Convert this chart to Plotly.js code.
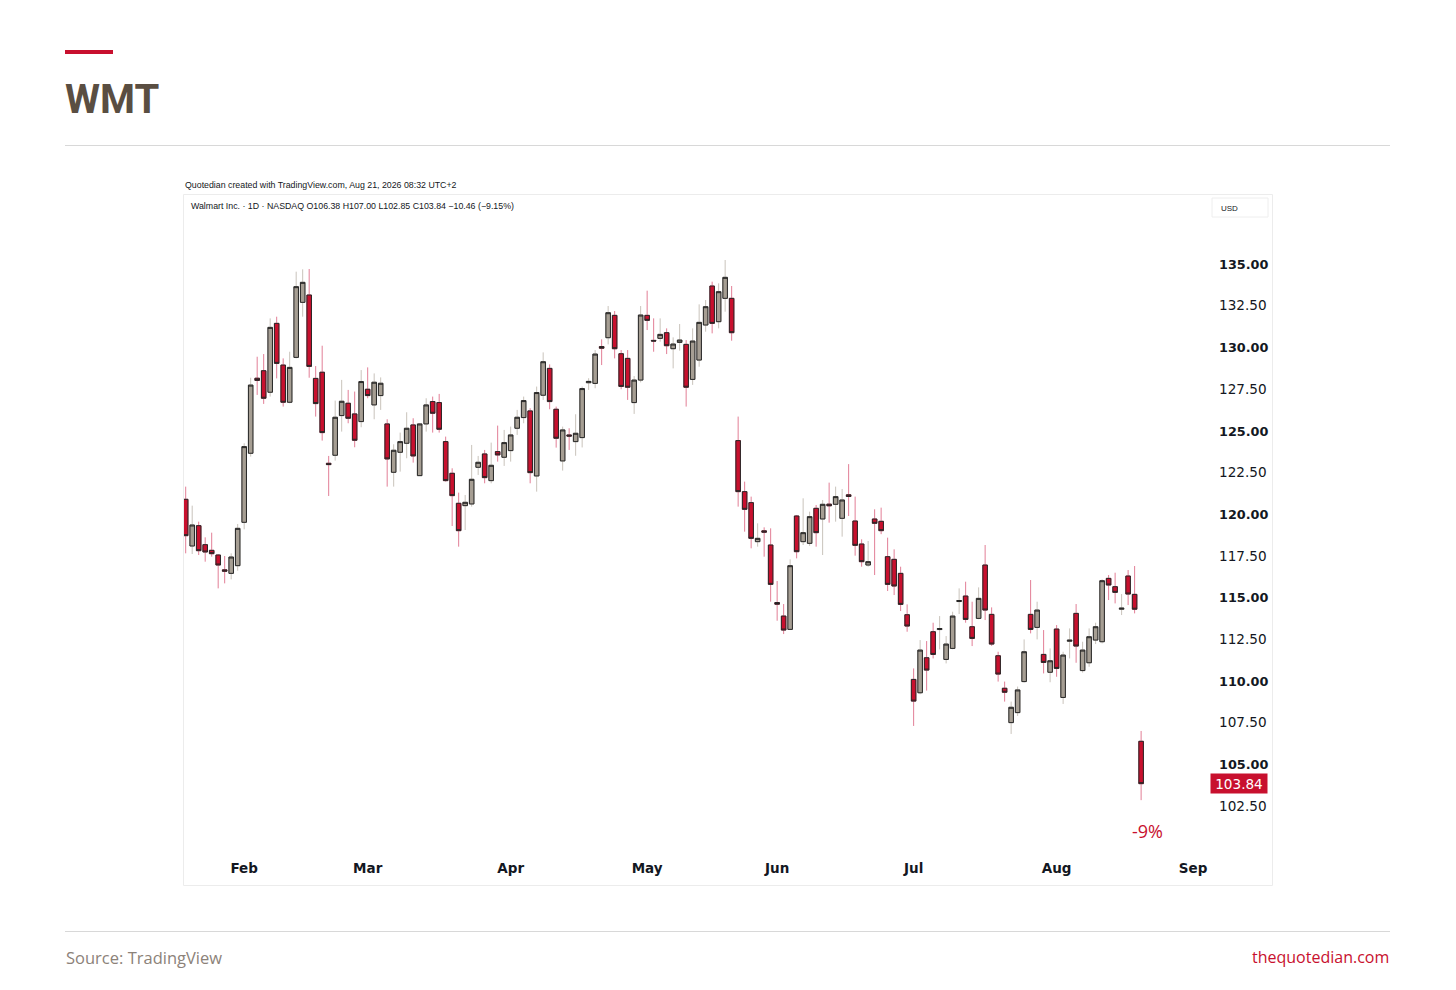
<!DOCTYPE html>
<html><head><meta charset="utf-8">
<script src="https://cdn.plot.ly/plotly-3.0.1.min.js"></script>
<style>html,body{margin:0;padding:0;background:#fff;} #chart{width:1456px;height:990px;}</style>
</head><body><div id="chart"></div>
<script>
const ticker = 'WMT';
const dates = [
'2026-01-20','2026-01-21','2026-01-22','2026-01-23','2026-01-26','2026-01-27','2026-01-28','2026-01-29','2026-01-30',
'2026-02-02','2026-02-03','2026-02-04','2026-02-05','2026-02-06','2026-02-09','2026-02-10','2026-02-11','2026-02-12','2026-02-13','2026-02-17','2026-02-18','2026-02-19','2026-02-20','2026-02-23','2026-02-24','2026-02-25','2026-02-26','2026-02-27',
'2026-03-02','2026-03-03','2026-03-04','2026-03-05','2026-03-06','2026-03-09','2026-03-10','2026-03-11','2026-03-12','2026-03-13','2026-03-16','2026-03-17','2026-03-18','2026-03-19','2026-03-20','2026-03-23','2026-03-24','2026-03-25','2026-03-26','2026-03-27','2026-03-30','2026-03-31',
'2026-04-01','2026-04-02','2026-04-06','2026-04-07','2026-04-08','2026-04-09','2026-04-10','2026-04-13','2026-04-14','2026-04-15','2026-04-16','2026-04-17','2026-04-20','2026-04-21','2026-04-22','2026-04-23','2026-04-24','2026-04-27','2026-04-28','2026-04-29','2026-04-30',
'2026-05-01','2026-05-04','2026-05-05','2026-05-06','2026-05-07','2026-05-08','2026-05-11','2026-05-12','2026-05-13','2026-05-14','2026-05-15','2026-05-18','2026-05-19','2026-05-20','2026-05-21','2026-05-22','2026-05-26','2026-05-27','2026-05-28','2026-05-29',
'2026-06-01','2026-06-02','2026-06-03','2026-06-04','2026-06-05','2026-06-08','2026-06-09','2026-06-10','2026-06-11','2026-06-12','2026-06-15','2026-06-16','2026-06-17','2026-06-18','2026-06-22','2026-06-23','2026-06-24','2026-06-25','2026-06-26','2026-06-29','2026-06-30',
'2026-07-01','2026-07-02','2026-07-06','2026-07-07','2026-07-08','2026-07-09','2026-07-10','2026-07-13','2026-07-14','2026-07-15','2026-07-16','2026-07-17','2026-07-20','2026-07-21','2026-07-22','2026-07-23','2026-07-24','2026-07-27','2026-07-28','2026-07-29','2026-07-30','2026-07-31',
'2026-08-03','2026-08-04','2026-08-05','2026-08-06','2026-08-07','2026-08-10','2026-08-11','2026-08-12','2026-08-13','2026-08-14','2026-08-17','2026-08-18','2026-08-19','2026-08-20'
];
const opens = [
120.89,118.09,119.31,118.17,117.83,117.55,116.66,116.45,116.91,
119.51,123.65,128.15,128.60,127.31,131.44,128.94,126.71,129.40,132.70,133.14,128.14,128.51,123.05,123.53,125.91,126.65,126.01,125.55,
127.49,126.55,127.11,125.41,122.51,123.71,124.25,125.35,122.31,125.41,126.75,126.69,124.35,122.45,120.65,120.51,120.61,122.81,123.61,122.01,123.75,123.41,
123.81,125.15,125.79,126.19,122.29,127.13,128.74,126.29,123.19,124.75,124.35,124.59,127.88,127.84,130.05,130.58,131.92,129.62,129.34,126.69,128.04,
131.92,130.42,130.54,130.88,129.92,130.30,130.18,128.08,129.24,131.34,133.68,131.54,132.94,132.94,124.41,121.35,120.69,118.35,119.00,118.15,
114.70,113.89,113.09,119.89,118.35,118.25,120.35,119.71,120.60,120.59,119.75,121.16,119.59,118.21,116.95,119.71,119.57,117.45,117.29,116.45,113.97,
110.09,109.29,111.39,112.95,113.08,111.29,111.95,114.76,115.09,113.25,113.75,116.95,113.99,111.51,109.56,107.50,108.10,109.96,113.99,113.21,111.59,110.52,
113.11,109.01,112.38,114.05,110.62,111.09,112.45,112.35,116.15,115.65,114.30,116.29,115.19,106.38
];
const highs = [
121.65,120.51,119.55,118.61,118.89,117.61,117.49,117.65,119.41,
124.25,128.18,129.44,129.60,131.74,131.84,129.34,129.74,134.54,134.68,134.70,128.88,130.10,123.49,126.81,128.05,127.45,127.35,128.64,
128.80,128.44,128.20,125.69,124.19,124.89,126.11,125.75,125.45,126.95,127.05,127.21,124.65,122.75,121.29,121.15,124.15,123.49,123.85,124.29,125.31,125.05,
125.25,126.25,127.05,126.35,127.65,129.70,128.98,126.45,125.25,125.15,125.99,127.65,128.15,129.84,130.48,132.48,132.18,129.84,129.84,128.28,132.48,
133.40,131.74,131.74,131.14,130.60,131.40,130.44,131.14,132.58,132.84,133.94,133.84,135.24,133.68,125.85,121.95,121.05,119.45,119.21,119.15,
115.99,114.61,117.29,119.95,120.95,120.15,120.55,120.85,121.89,121.65,121.51,123.00,121.05,118.49,118.39,120.29,120.39,118.59,117.89,116.85,114.59,
110.75,112.45,112.39,113.49,113.89,112.69,114.15,115.55,115.95,114.75,115.61,118.15,114.41,111.75,109.96,108.76,109.66,112.49,116.05,114.75,113.05,111.95,
113.35,111.75,113.15,114.61,112.35,113.15,113.49,116.09,116.35,116.49,115.21,116.65,116.89,107.00
];
const lows = [
117.65,117.61,117.55,117.15,117.45,115.55,115.85,116.09,116.61,
119.09,123.45,127.15,126.61,127.05,128.14,126.45,126.65,129.34,131.84,128.18,125.85,124.41,121.09,123.21,124.95,125.45,124.01,125.21,
126.95,125.69,126.25,121.65,121.65,122.55,123.35,123.09,122.29,124.95,124.89,124.89,121.95,119.29,118.05,119.05,120.45,122.35,121.85,121.85,123.15,122.89,
123.15,124.75,125.45,121.85,121.35,126.85,126.29,123.99,122.61,123.85,123.50,124.00,127.45,127.55,128.94,130.18,129.34,127.49,126.85,126.01,127.90,
131.04,129.74,130.34,129.60,128.74,129.80,126.45,127.75,128.84,130.94,130.84,131.14,132.14,130.40,120.45,118.95,117.95,118.05,117.45,114.75,
113.61,112.81,113.05,117.35,118.15,118.10,118.05,117.55,119.49,119.55,118.65,119.89,117.51,116.85,116.85,116.35,118.80,115.39,115.15,114.19,112.95,
107.30,109.20,109.42,111.35,111.89,111.05,111.90,114.01,113.49,112.09,113.70,113.65,112.10,109.96,108.76,106.82,107.90,109.90,112.85,112.49,110.45,109.92,
110.25,108.62,111.35,111.09,110.50,110.85,112.21,112.25,114.85,114.65,113.95,114.55,114.05,102.85
];
const closes = [
118.71,119.35,117.81,117.73,117.63,116.95,116.58,117.43,119.15,
124.05,127.74,128.02,126.95,131.20,129.04,126.71,128.80,133.64,133.90,128.86,126.63,124.89,122.97,125.81,126.77,125.75,124.43,127.95,
127.11,127.91,127.85,123.31,123.83,124.35,125.15,123.49,125.41,126.55,126.05,125.09,122.01,121.11,119.01,120.71,122.09,123.11,122.19,122.93,123.55,124.29,
124.75,125.81,126.81,122.49,127.29,129.14,126.75,124.55,125.05,124.68,124.85,127.53,127.96,129.60,129.95,132.08,129.92,127.66,127.61,128.04,131.94,
131.62,130.38,130.78,130.10,130.20,130.44,127.61,130.38,131.50,132.44,131.44,133.34,134.20,130.88,121.35,120.29,118.55,118.55,118.92,115.79,
114.60,113.05,116.91,117.75,118.89,119.85,118.89,120.59,120.50,121.05,120.85,121.06,118.13,117.15,117.15,119.45,119.01,115.79,115.69,114.59,113.29,
108.79,111.85,110.65,111.59,113.14,112.21,113.89,114.82,113.69,112.55,114.95,114.25,112.21,110.41,109.32,108.42,109.46,111.75,113.09,114.25,111.11,111.21,
110.75,111.55,112.44,112.09,111.85,112.65,113.25,116.01,115.75,115.31,114.36,115.21,114.30,103.84
];
const holidays = ['2026-02-16','2026-04-03','2026-05-25','2026-06-19','2026-07-03'];
const monthTickDates = ['2026-02-02','2026-03-02','2026-04-01','2026-05-01','2026-06-01','2026-07-01','2026-08-03','2026-09-01'];
const monthLabels = ['Feb','Mar','Apr','May','Jun','Jul','Aug','Sep'];
const priceTicks = [102.5,105,107.5,110,112.5,115,117.5,120,122.5,125,127.5,130,132.5,135];

const W = 1456, H = 990;
const px = x => x / W, py = y => 1 - y / H;
const X = dates.map(d => d + ' 12:00');
const bodyHi = opens.map((o, i) => Math.max(o, closes[i]));
const bodyLo = opens.map((o, i) => Math.min(o, closes[i]));

const RED = '#c8102e', GREY = '#a69e93', EDGE = '#262626';
const n = closes.length;
const lastC = closes[n-1], prevC = closes[n-2];
const chg = lastC - prevC, pct = chg / prevC * 100;
const mfmt = v => (v < 0 ? '\u2212' : '+') + Math.abs(v).toFixed(2);

const wicks = {
  type: 'candlestick', x: X, open: opens, high: highs, low: lows, close: closes,
  increasing: {line: {color: '#c9c3bb', width: 1}, fillcolor: GREY},
  decreasing: {line: {color: '#e27e96', width: 1}, fillcolor: RED},
  whiskerwidth: 0, hoverinfo: 'skip', showlegend: false
};
const bodies = {
  type: 'candlestick', x: X, open: opens, high: bodyHi, low: bodyLo, close: closes,
  increasing: {line: {color: EDGE, width: 1}, fillcolor: GREY},
  decreasing: {line: {color: EDGE, width: 1}, fillcolor: RED},
  whiskerwidth: 0, hoverinfo: 'skip', showlegend: false
};

const tvFont = 'DejaVu Sans, Liberation Sans, sans-serif';
const layout = {
  width: W, height: H, margin: {l: 0, r: 0, t: 0, b: 0},
  paper_bgcolor: '#ffffff', plot_bgcolor: '#ffffff',
  showlegend: false, hovermode: false, dragmode: false,
  boxgap: 0.3, boxgroupgap: 0,
  xaxis: {
    type: 'date', domain: [px(184), px(1208)],
    range: ['2026-01-20 05:45', '2026-09-03 19:00'],
    rangebreaks: [{bounds: ['sat', 'mon']}, {values: holidays}],
    rangeslider: {visible: false},
    tickvals: monthTickDates.map(d => d + ' 12:00'), ticktext: monthLabels.map(m => '<b>' + m + '</b>'),
    tickfont: {family: tvFont, size: 13.5, color: '#131722'},
    showgrid: false, zeroline: false, showline: false, ticks: '', ticklabelstandoff: 6
  },
  yaxis: {
    side: 'right', domain: [py(852), py(196)], range: [99.742, 139.077],
    tickvals: priceTicks,
    ticktext: priceTicks.map(v => v % 5 === 0 ? '<span style="font-size:12.8px"><b>' + v.toFixed(2) + '</b></span>' : v.toFixed(2)),
    tickfont: {family: tvFont, size: 13.6, color: '#131722'},
    showgrid: false, zeroline: false, showline: false, ticks: '', ticklabelstandoff: 10
  },
  shapes: [
    {type: 'rect', xref: 'paper', yref: 'paper', x0: px(65), x1: px(113), y0: py(54), y1: py(50), fillcolor: RED, line: {width: 0}},
    {type: 'line', xref: 'paper', yref: 'paper', x0: px(65), x1: px(1390), y0: py(145.5), y1: py(145.5), line: {color: '#d8d8d8', width: 1}},
    {type: 'line', xref: 'paper', yref: 'paper', x0: px(65), x1: px(1390), y0: py(931.5), y1: py(931.5), line: {color: '#d8d8d8', width: 1}},
    {type: 'rect', xref: 'paper', yref: 'paper', x0: px(183.5), x1: px(1272.5), y0: py(885.5), y1: py(194.5), line: {color: '#ececec', width: 1}},
    {type: 'rect', xref: 'paper', yref: 'paper', x0: px(1212), x1: px(1268), y0: py(217), y1: py(198), line: {color: '#eeeeee', width: 1}}
  ],
  annotations: [
    {xref: 'paper', yref: 'paper', x: px(63), y: py(100), xanchor: 'left', yanchor: 'middle', showarrow: false,
     text: '<b>' + ticker + '</b>', font: {family: 'Roboto, Liberation Sans, sans-serif', size: 40, color: '#5a4e42'}},
    {xref: 'paper', yref: 'paper', x: px(183), y: py(185), xanchor: 'left', yanchor: 'middle', showarrow: false,
     text: 'Quotedian created with TradingView.com, Aug 21, 2026 08:32 UTC+2', font: {family: 'Liberation Sans, sans-serif', size: 8.8, color: '#131722'}},
    {xref: 'paper', yref: 'paper', x: px(189), y: py(206), xanchor: 'left', yanchor: 'middle', showarrow: false,
     text: 'Walmart Inc. \u00b7 1D \u00b7 NASDAQ O' + opens[n-1].toFixed(2) + ' H' + highs[n-1].toFixed(2) + ' L' + lows[n-1].toFixed(2) + ' C' + lastC.toFixed(2) + ' ' + mfmt(chg) + ' (' + mfmt(pct) + '%)',
     font: {family: 'Liberation Sans, sans-serif', size: 8.8, color: '#131722'}},
    {xref: 'paper', yref: 'paper', x: px(1219), y: py(208), xanchor: 'left', yanchor: 'middle', showarrow: false,
     text: 'USD', font: {family: 'Liberation Sans, sans-serif', size: 8, color: '#131722'}},
    {xref: 'paper', yref: 'y', x: px(1239), y: lastC, xanchor: 'center', yanchor: 'middle', showarrow: false,
     text: lastC.toFixed(2), bgcolor: RED, width: 54, height: 17, borderpad: 1,
     font: {family: tvFont, size: 13.6, color: '#ffffff'}},
    {xref: 'x', yref: 'y', x: X[n-1], y: lows[n-1], xanchor: 'center', yanchor: 'middle', xshift: 6, yshift: -31, showarrow: false,
     text: Math.round(pct) + '%', font: {family: 'Open Sans, sans-serif', size: 18, color: RED}},
    {xref: 'paper', yref: 'paper', x: px(64), y: py(957), xanchor: 'left', yanchor: 'middle', showarrow: false,
     text: 'Source: TradingView', font: {family: 'Open Sans, sans-serif', size: 16.5, color: '#8c8279'}},
    {xref: 'paper', yref: 'paper', x: px(1391), y: py(957), xanchor: 'right', yanchor: 'middle', showarrow: false,
     text: 'thequotedian.com', font: {family: 'Open Sans, sans-serif', size: 16, color: RED}}
  ]
};
Plotly.newPlot('chart', [wicks, bodies], layout, {staticPlot: true, displayModeBar: false});
</script>
</body></html>
